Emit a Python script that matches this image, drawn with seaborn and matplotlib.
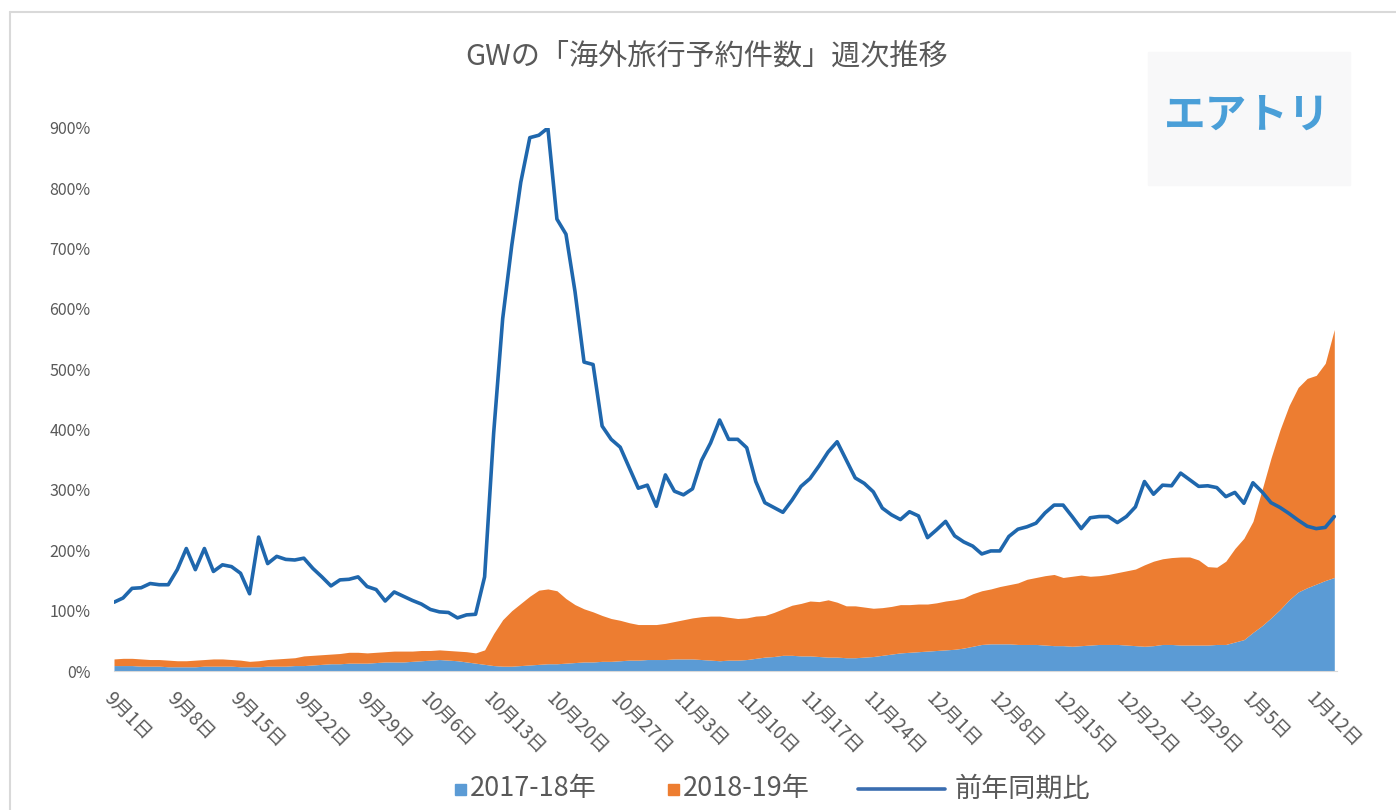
import numpy as np
import pandas as pd
import matplotlib
matplotlib.use('Agg')
import matplotlib.pyplot as plt
import seaborn as sns
from matplotlib.patches import Rectangle
from matplotlib.lines import Line2D

# daily values, Sep 1 -> Jan 14 (stacked area: 2017-18 bottom, 2018-19 on top)
bookings_1718 = [
    9, 9, 9, 8, 8, 8, 7, 7, 7, 7, 8,
    8, 8, 8, 7, 7, 7, 8, 8, 8, 9,
    9, 10, 11, 12, 12, 13, 13, 13, 14, 15,
    15, 15, 16, 17, 18, 19, 18, 17, 15, 13,
    11, 9, 8, 8, 9, 10, 11, 12, 12, 13,
    14, 15, 15, 16, 16, 17, 18, 18, 19, 19,
    19, 20, 20, 20, 19, 18, 17, 18, 18, 19,
    21, 23, 24, 26, 26, 25, 25, 24, 23, 23,
    22, 22, 23, 24, 26, 28, 30, 31, 32, 33,
    34, 35, 36, 38, 41, 44, 45, 45, 45, 44,
    44, 44, 43, 42, 42, 41, 42, 43, 44, 44,
    44, 43, 42, 41, 42, 44, 44, 43, 43, 43,
    43, 44, 44, 48, 52, 64, 75, 88, 102, 118,
    131, 138, 144, 150, 155,
]
bookings_1819 = [
    11, 12, 12, 12, 11, 11, 11, 10, 10, 11, 11,
    12, 12, 11, 11, 9, 10, 11, 12, 13, 13,
    16, 16, 16, 16, 17, 18, 18, 17, 17, 17,
    18, 18, 17, 17, 16, 16, 16, 16, 17, 17,
    24, 53, 77, 92, 103, 114, 123, 124, 121, 107,
    96, 88, 83, 76, 71, 67, 62, 59, 58, 58,
    60, 62, 65, 68, 71, 73, 74, 71, 69, 69,
    70, 69, 73, 77, 83, 87, 91, 91, 95, 91,
    86, 86, 83, 80, 79, 79, 80, 79, 79, 78,
    79, 81, 82, 83, 87, 89, 91, 95, 98, 102,
    108, 111, 115, 118, 113, 116, 117, 114, 114, 116,
    119, 123, 127, 135, 140, 142, 144, 146, 146, 141,
    130, 128, 138, 155, 168, 184, 225, 265, 298, 322,
    339, 347, 346, 360, 411,
]
yoy_ratio = [
    114, 121, 137, 138, 145, 143, 143, 168, 203, 168, 203,
    165, 176, 173, 162, 128, 222, 178, 190, 185, 184,
    187, 170, 156, 141, 151, 152, 156, 140, 135, 116,
    131, 124, 117, 111, 102, 98, 97, 88, 93, 94,
    156, 394, 584, 705, 810, 884, 888, 900, 749, 724,
    629, 512, 508, 406, 384, 371, 337, 303, 308, 273,
    325, 298, 292, 302, 349, 378, 416, 384, 384, 370,
    314, 279, 271, 263, 283, 306, 319, 340, 363, 380,
    350, 320, 311, 297, 270, 259, 251, 264, 257, 221,
    234, 248, 224, 214, 207, 194, 199, 199, 223, 235,
    239, 245, 262, 275, 275, 256, 236, 254, 256, 256,
    246, 256, 272, 314, 293, 308, 307, 328, 317, 306,
    307, 304, 289, 296, 278, 312, 297, 279, 271, 261,
    250, 240, 236, 238, 256,
]
tick_labels = ['9月1日', '9月8日', '9月15日', '9月22日', '9月29日', '10月6日',
               '10月13日', '10月20日', '10月27日', '11月3日', '11月10日',
               '11月17日', '11月24日', '12月1日', '12月8日', '12月15日',
               '12月22日', '12月29日', '1月5日', '1月12日']
y_ticks = [0, 100, 200, 300, 400, 500, 600, 700, 800, 900]

df = pd.DataFrame({'day': np.arange(len(yoy_ratio)),
                   '2017-18年': bookings_1718,
                   '2018-19年': bookings_1819,
                   '前年同期比': yoy_ratio})

sns.set_style('white')
plt.rcParams['font.family'] = ['Noto Sans CJK JP', 'DejaVu Sans']

c_blue = '#5b9bd5'
c_orange = '#ed7d31'
c_line = '#1f67ad'
c_text = '#595959'

W, H = 1396, 810
fig = plt.figure(figsize=(W / 100, H / 100), dpi=100)
ax = fig.add_axes([114 / W, 1 - 671 / H, (1337 - 114) / W, (671 - 128) / H])

ax.stackplot(df['day'], df['2017-18年'], df['2018-19年'],
             colors=[c_blue, c_orange], linewidth=0)
sns.lineplot(data=df, x='day', y='前年同期比', ax=ax, color=c_line, lw=2.6, legend=False)

ax.set_xlim(0, 135.3)
ax.set_ylim(0, 900)
ax.set_xticks(np.arange(0, 7 * len(tick_labels), 7))
ax.set_xticklabels(tick_labels, rotation=-45, ha='left', va='top',
                   rotation_mode='anchor', fontsize=13.5, color=c_text)
ax.set_yticks(y_ticks)
ax.set_yticklabels([f'{v}%' for v in y_ticks], fontsize=11.5, color=c_text)
ax.set_xlabel('')
ax.set_ylabel('')
for s in ['top', 'right', 'left']:
    ax.spines[s].set_visible(False)
ax.spines['bottom'].set_color('#d9d9d9')
ax.tick_params(axis='x', length=5, color='#d9d9d9', pad=7)
ax.tick_params(axis='y', length=0, pad=17)

# title
fig.text(707 / W, 1 - 57 / H, 'GWの「海外旅行予約件数」週次推移', ha='center', va='center',
         fontsize=21, color=c_text)

# logo box
fig.patches.append(Rectangle((1148 / W, 1 - 185 / H), 202 / W, 133 / H,
                             transform=fig.transFigure, color='#f8f8f9', zorder=0))
fig.text(1247 / W, 1 - 116 / H, 'エアトリ', ha='center', va='center',
         fontsize=30, fontweight='bold', color='#4a9fd8')

# chart frame
fig.add_artist(Line2D([10 / W, 1], [1 - 12 / H, 1 - 12 / H], transform=fig.transFigure,
                      color='#d9d9d9', lw=1.5))
fig.add_artist(Line2D([10 / W, 10 / W], [0, 1 - 12 / H], transform=fig.transFigure,
                      color='#d9d9d9', lw=1.5))

# legend
ly = 1 - 789 / H
fig.patches.append(Rectangle((455 / W, ly - 5.5 / H), 11 / W, 11 / H,
                             transform=fig.transFigure, color=c_blue))
fig.text(470 / W, ly, '2017-18年', ha='left', va='center', fontsize=19.5, color=c_text)
fig.patches.append(Rectangle((668 / W, ly - 5.5 / H), 11 / W, 11 / H,
                             transform=fig.transFigure, color=c_orange))
fig.text(683 / W, ly, '2018-19年', ha='left', va='center', fontsize=19.5, color=c_text)
fig.add_artist(Line2D([858 / W, 945 / W], [ly, ly], transform=fig.transFigure,
                      color='#3a6db0', lw=2.6))
fig.text(955 / W, ly, '前年同期比', ha='left', va='center', fontsize=19.5, color=c_text)

fig.savefig('out.png', dpi=100, facecolor='white')
